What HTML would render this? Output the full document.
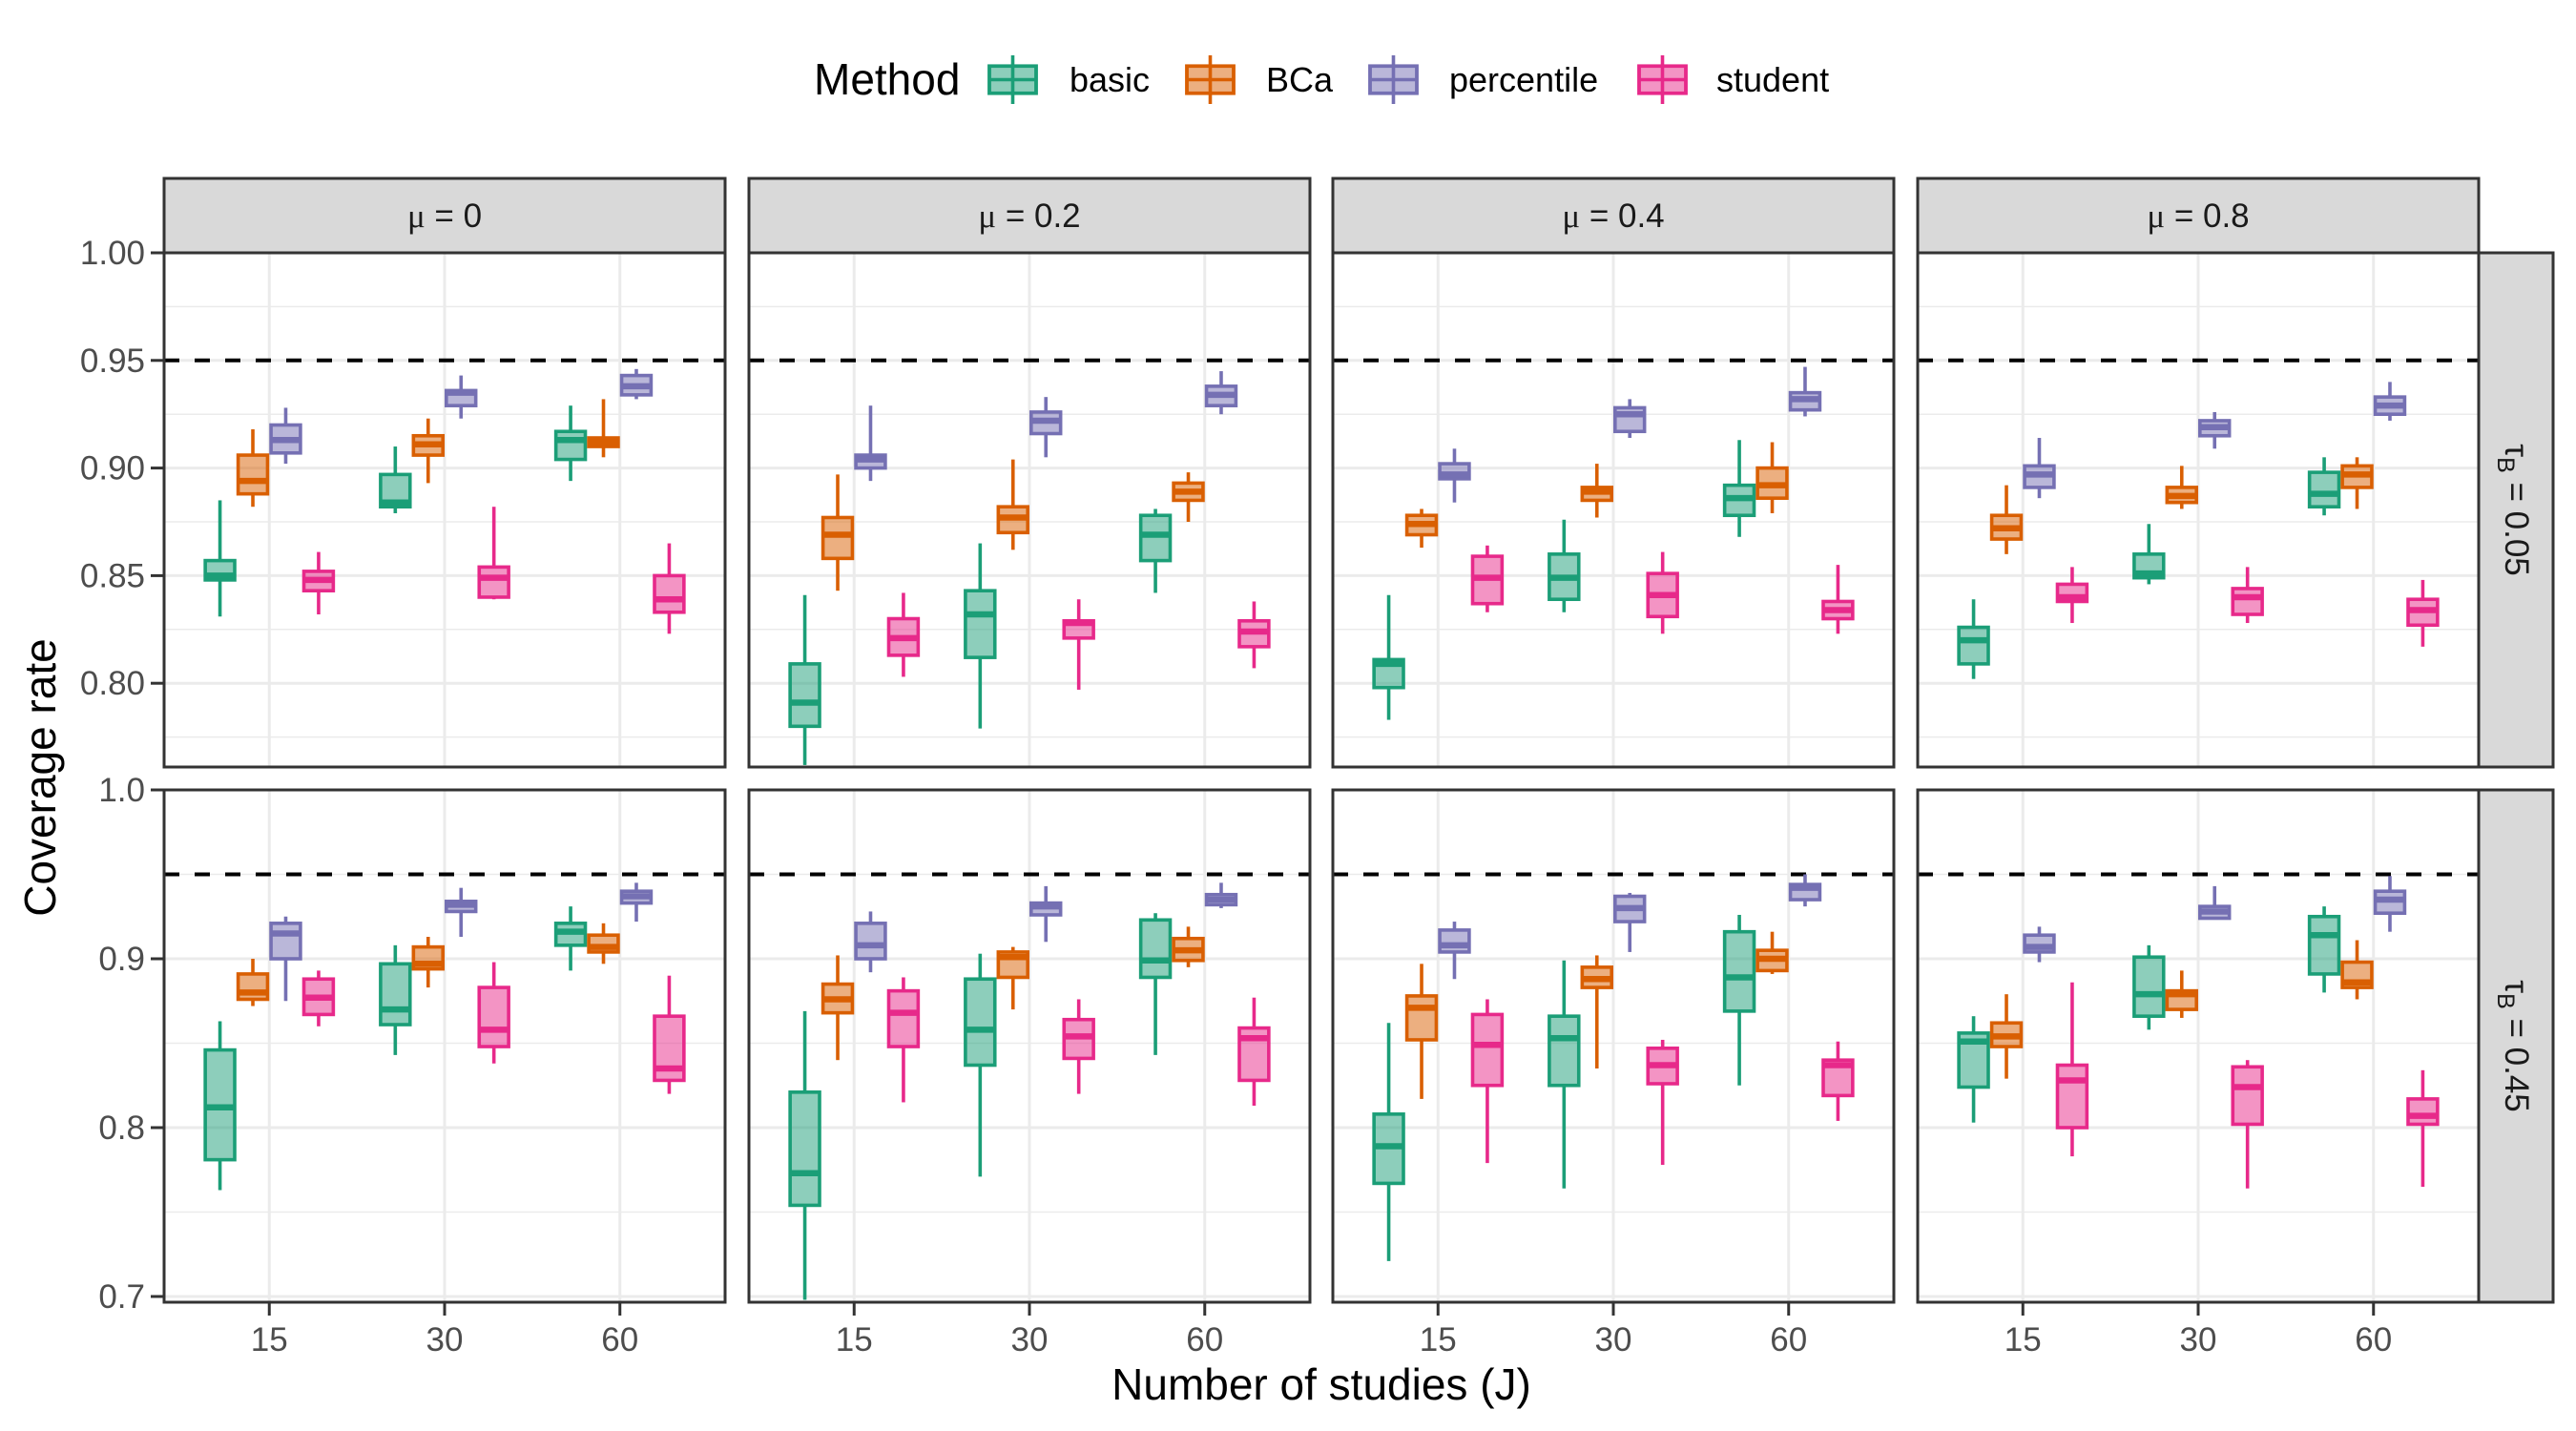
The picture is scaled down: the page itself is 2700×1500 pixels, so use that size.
<!DOCTYPE html>
<html><head><meta charset="utf-8">
<style>
html,body{margin:0;padding:0;background:#fff;}
svg{display:block;font-family:"Liberation Sans",Arial,sans-serif;}
</style></head>
<body>
<svg id="chart" width="2700" height="1500" viewBox="0 0 2700 1500" xmlns="http://www.w3.org/2000/svg">
<rect x="0" y="0" width="2700" height="1500" fill="#fff"/>
<g id="legend">
<text x="853" y="99" font-size="46" fill="#000">Method</text>
</g>
<g id="panels"></g>
<text x="1385" y="1467" font-size="46" text-anchor="middle" fill="#000">Number of studies (J)</text>
<text transform="translate(58,815) rotate(-90)" font-size="46" text-anchor="middle" fill="#000">Coverage rate</text>
</svg>
<script>
const methods = ["basic","BCa","percentile","student"];
const colors = ["#1B9E77","#D95F02","#7570B3","#E7298A"];
const studies = ["15","30","60"];
const muLabels = ["0","0.2","0.4","0.8"];
const tauLabels = ["0.05","0.45"];
const topTicks = ["0.80","0.85","0.90","0.95","1.00"];
const topTickVals = [0.80,0.85,0.90,0.95,1.00];
const botTicks = ["0.7","0.8","0.9","1.0"];
const botTickVals = [0.7,0.8,0.9,1.0];
const nominal = 0.95;
// each panel: 12 values ordered J15(basic,BCa,percentile,student), J30(...), J60(...)
const upperWhisker = [
 [.885,.918,.928,.861, .910,.923,.943,.882, .929,.932,.946,.865],
 [.841,.897,.929,.842, .865,.904,.933,.839, .881,.898,.945,.838],
 [.841,.881,.909,.864, .876,.902,.932,.861, .913,.912,.947,.855],
 [.839,.892,.914,.854, .874,.901,.926,.854, .905,.905,.940,.848],
 [.863,.900,.925,.893, .908,.913,.942,.898, .931,.921,.945,.890],
 [.869,.902,.928,.889, .903,.907,.943,.876, .927,.919,.945,.877],
 [.862,.897,.922,.876, .899,.902,.939,.852, .926,.916,.950,.851],
 [.866,.879,.919,.886, .908,.893,.943,.840, .931,.911,.949,.834]
];
const q3 = [
 [.857,.906,.920,.852, .897,.915,.936,.854, .917,.914,.943,.850],
 [.809,.877,.906,.830, .843,.882,.926,.829, .878,.893,.938,.829],
 [.811,.878,.902,.859, .860,.891,.928,.851, .892,.900,.935,.838],
 [.826,.878,.901,.846, .860,.891,.922,.844, .898,.901,.933,.839],
 [.846,.891,.921,.888, .897,.907,.934,.883, .921,.914,.940,.866],
 [.821,.885,.921,.881, .888,.904,.933,.864, .923,.912,.938,.859],
 [.808,.878,.917,.867, .866,.895,.937,.847, .916,.905,.944,.840],
 [.856,.862,.914,.837, .901,.881,.931,.836, .925,.898,.940,.817]
];
const median = [
 [.850,.894,.913,.848, .884,.911,.935,.849, .913,.912,.938,.839],
 [.791,.869,.904,.821, .832,.877,.922,.828, .869,.889,.934,.824],
 [.809,.874,.897,.849, .849,.889,.925,.841, .886,.892,.932,.834],
 [.820,.872,.897,.840, .851,.887,.919,.840, .888,.897,.929,.834],
 [.812,.880,.915,.877, .870,.897,.932,.858, .916,.907,.937,.835],
 [.773,.876,.908,.868, .858,.901,.931,.854, .899,.905,.935,.853],
 [.789,.871,.908,.849, .853,.888,.930,.837, .889,.900,.942,.837],
 [.851,.854,.907,.828, .879,.879,.928,.824, .914,.886,.935,.807]
];
const q1 = [
 [.848,.888,.907,.843, .882,.906,.929,.840, .904,.910,.934,.833],
 [.780,.858,.900,.813, .812,.870,.916,.821, .857,.885,.929,.817],
 [.798,.869,.895,.837, .839,.885,.917,.831, .878,.886,.927,.830],
 [.809,.867,.891,.838, .849,.884,.915,.832, .882,.891,.925,.827],
 [.781,.876,.900,.867, .861,.894,.928,.848, .908,.904,.933,.828],
 [.754,.868,.900,.848, .837,.889,.926,.841, .889,.899,.932,.828],
 [.767,.852,.904,.825, .825,.883,.922,.826, .869,.893,.935,.819],
 [.824,.848,.904,.800, .866,.870,.924,.802, .891,.883,.927,.802]
];
const lowerWhisker = [
 [.831,.882,.902,.832, .879,.893,.923,.839, .894,.905,.932,.823],
 [.762,.843,.894,.803, .779,.862,.905,.797, .842,.875,.925,.807],
 [.783,.863,.884,.833, .833,.877,.914,.823, .868,.879,.924,.823],
 [.802,.860,.886,.828, .846,.881,.909,.828, .878,.881,.922,.817],
 [.763,.872,.875,.860, .843,.883,.913,.838, .893,.897,.922,.820],
 [.698,.840,.892,.815, .771,.870,.910,.820, .843,.895,.930,.813],
 [.721,.817,.888,.779, .764,.835,.904,.778, .825,.891,.931,.804],
 [.803,.829,.898,.783, .858,.865,.924,.764, .880,.876,.916,.765]
];

const NS = "http://www.w3.org/2000/svg";
function mk(tag, attrs, parent){
  const e = document.createElementNS(NS, tag);
  for (const k in attrs) e.setAttribute(k, attrs[k]);
  parent.appendChild(e);
  return e;
}
const colLeft = [172, 785, 1397, 2010];
const panelW = 588;
const rowTop = [265, 828];
const rowBottom = [804, 1365];
const rowScale = [2256, 1770];
function yScale(row, v){ return rowTop[row] + (1 - v) * rowScale[row]; }
function xScale(col, j){ return colLeft[col] + panelW * (0.6 + j) / 3.2; }
const step = panelW / 3.2;
const boxW = step * 0.75 / 4;

const panels = document.getElementById('panels');
for (let r = 0; r < 2; r++){
  for (let c = 0; c < 4; c++){
    const p = r * 4 + c;
    const g = mk('g', {}, panels);
    
    
    const L = colLeft[c], T = rowTop[r], B = rowBottom[r], R = L + panelW;
    const clipId = 'clip' + p;
    const cp = mk('clipPath', {id: clipId}, g);
    mk('rect', {x: L, y: T, width: panelW, height: B - T}, cp);
    const minors = r === 0 ? [0.775,0.825,0.875,0.925,0.975] : [0.75,0.85,0.95];
    const majors = r === 0 ? topTickVals : botTickVals;
    minors.forEach(v => { const y = yScale(r, v); if (y > T && y < B) mk('line', {x1: L, x2: R, y1: y, y2: y, stroke: '#EBEBEB', 'stroke-width': 1.5}, g); });
    majors.forEach(v => { const y = yScale(r, v); mk('line', {x1: L, x2: R, y1: y, y2: y, stroke: '#EBEBEB', 'stroke-width': 3}, g); });
    for (let j = 0; j < 3; j++){ const x = xScale(c, j); mk('line', {x1: x, x2: x, y1: T, y2: B, stroke: '#EBEBEB', 'stroke-width': 3}, g); }
    const ry = yScale(r, nominal);
    const ref = mk('line', {x1: L, x2: R, y1: ry, y2: ry, stroke: '#000', 'stroke-width': 4, 'stroke-dasharray': '16 16'}, g);
    
    
    const bg = mk('g', {'clip-path': 'url(#' + clipId + ')'}, g);
    for (let j = 0; j < 3; j++){
      for (let m = 0; m < 4; m++){
        const i = j * 4 + m;
        const cx = xScale(c, j) + (m - 1.5) * boxW;
        const col = colors[m];
        const bx = mk('g', {}, bg);
        
        
        const yUW = yScale(r, upperWhisker[p][i]), yQ3 = yScale(r, q3[p][i]), yMed = yScale(r, median[p][i]), yQ1 = yScale(r, q1[p][i]), yLW = yScale(r, lowerWhisker[p][i]);
        mk('line', {x1: cx, x2: cx, y1: yUW, y2: yQ3, stroke: col, 'stroke-width': 3.6}, bx);
        mk('line', {x1: cx, x2: cx, y1: yQ1, y2: yLW, stroke: col, 'stroke-width': 3.6}, bx);
        mk('rect', {x: cx - boxW/2 + 1.8, y: yQ3, width: boxW - 3.6, height: Math.max(yQ1 - yQ3, 0.5), fill: col, 'fill-opacity': 0.5, stroke: col, 'stroke-width': 3.6}, bx);
        mk('line', {x1: cx - boxW/2 + 1.8, x2: cx + boxW/2 - 1.8, y1: yMed, y2: yMed, stroke: col, 'stroke-width': 6.5}, bx);
      }
    }
    mk('rect', {x: L, y: T, width: panelW, height: B - T, fill: 'none', stroke: '#333333', 'stroke-width': 3}, g);
    if (c === 0){
      const labs = r === 0 ? topTicks : botTicks;
      majors.forEach((v, k) => {
        const y = yScale(r, v);
        mk('line', {x1: L - 14, x2: L, y1: y, y2: y, stroke: '#333333', 'stroke-width': 3}, g);
        const t = mk('text', {x: L - 20, y: y + 12, 'font-size': 35, 'text-anchor': 'end', fill: '#4D4D4D'}, g);
        t.textContent = labs[k];
        
        
      });
    }
    if (r === 1){
      for (let j = 0; j < 3; j++){
        const x = xScale(c, j);
        mk('line', {x1: x, x2: x, y1: B, y2: B + 14, stroke: '#333333', 'stroke-width': 3}, g);
        const t = mk('text', {x: x, y: B + 51, 'font-size': 35, 'text-anchor': 'middle', fill: '#4D4D4D'}, g);
        t.textContent = studies[j];
        
        
      }
    }
    if (r === 0){
      const s = mk('g', {}, g);
      
      
      mk('rect', {x: L, y: 187, width: panelW, height: T - 187, fill: '#D9D9D9', stroke: '#333333', 'stroke-width': 3}, s);
      const t = mk('text', {x: L + panelW/2, y: 238, 'font-size': 35, 'text-anchor': 'middle', fill: '#1A1A1A'}, s);
      t.innerHTML = '<tspan font-family="Liberation Serif, serif">μ</tspan> = ' + muLabels[c];
    }
    if (c === 3){
      const s = mk('g', {}, g);
      
      
      mk('rect', {x: R, y: T, width: 78, height: B - T, fill: '#D9D9D9', stroke: '#333333', 'stroke-width': 3}, s);
      const cy = (T + B) / 2;
      const t = mk('text', {transform: 'translate(' + (R + 28) + ',' + cy + ') rotate(90)', 'font-size': 35, 'text-anchor': 'middle', fill: '#1A1A1A'}, s);
      t.innerHTML = 'τ<tspan font-size="25" dy="8">B</tspan><tspan dy="-8"> = ' + tauLabels[r] + '</tspan>';
    }
  }
}
const legend = document.getElementById('legend');
const keyX = [1033, 1240, 1432, 1714];
const labX = [1121, 1327, 1519, 1799];
for (let m = 0; m < 4; m++){
  const g = mk('g', {}, legend);
  
  
  const x0 = keyX[m], y0 = 55, s = 57, col = colors[m];
  const cx = x0 + s/2;
  mk('line', {x1: cx, x2: cx, y1: y0 + 3, y2: y0 + s - 3, stroke: col, 'stroke-width': 3.6}, g);
  mk('rect', {x: x0 + 4, y: y0 + s*0.25, width: s - 8, height: s*0.5, fill: col, 'fill-opacity': 0.5, stroke: col, 'stroke-width': 3.6}, g);
  mk('line', {x1: x0 + 4, x2: x0 + s - 4, y1: y0 + s/2, y2: y0 + s/2, stroke: col, 'stroke-width': 3.6}, g);
  mk('rect', {x: x0 + 4, y: y0 + s*0.25, width: s - 8, height: s*0.5, fill: 'none', stroke: col, 'stroke-width': 3.6}, g);
  const t = mk('text', {x: labX[m], y: 96, 'font-size': 36, fill: '#000'}, g);
  t.textContent = methods[m];
}
</script>
</body></html>
